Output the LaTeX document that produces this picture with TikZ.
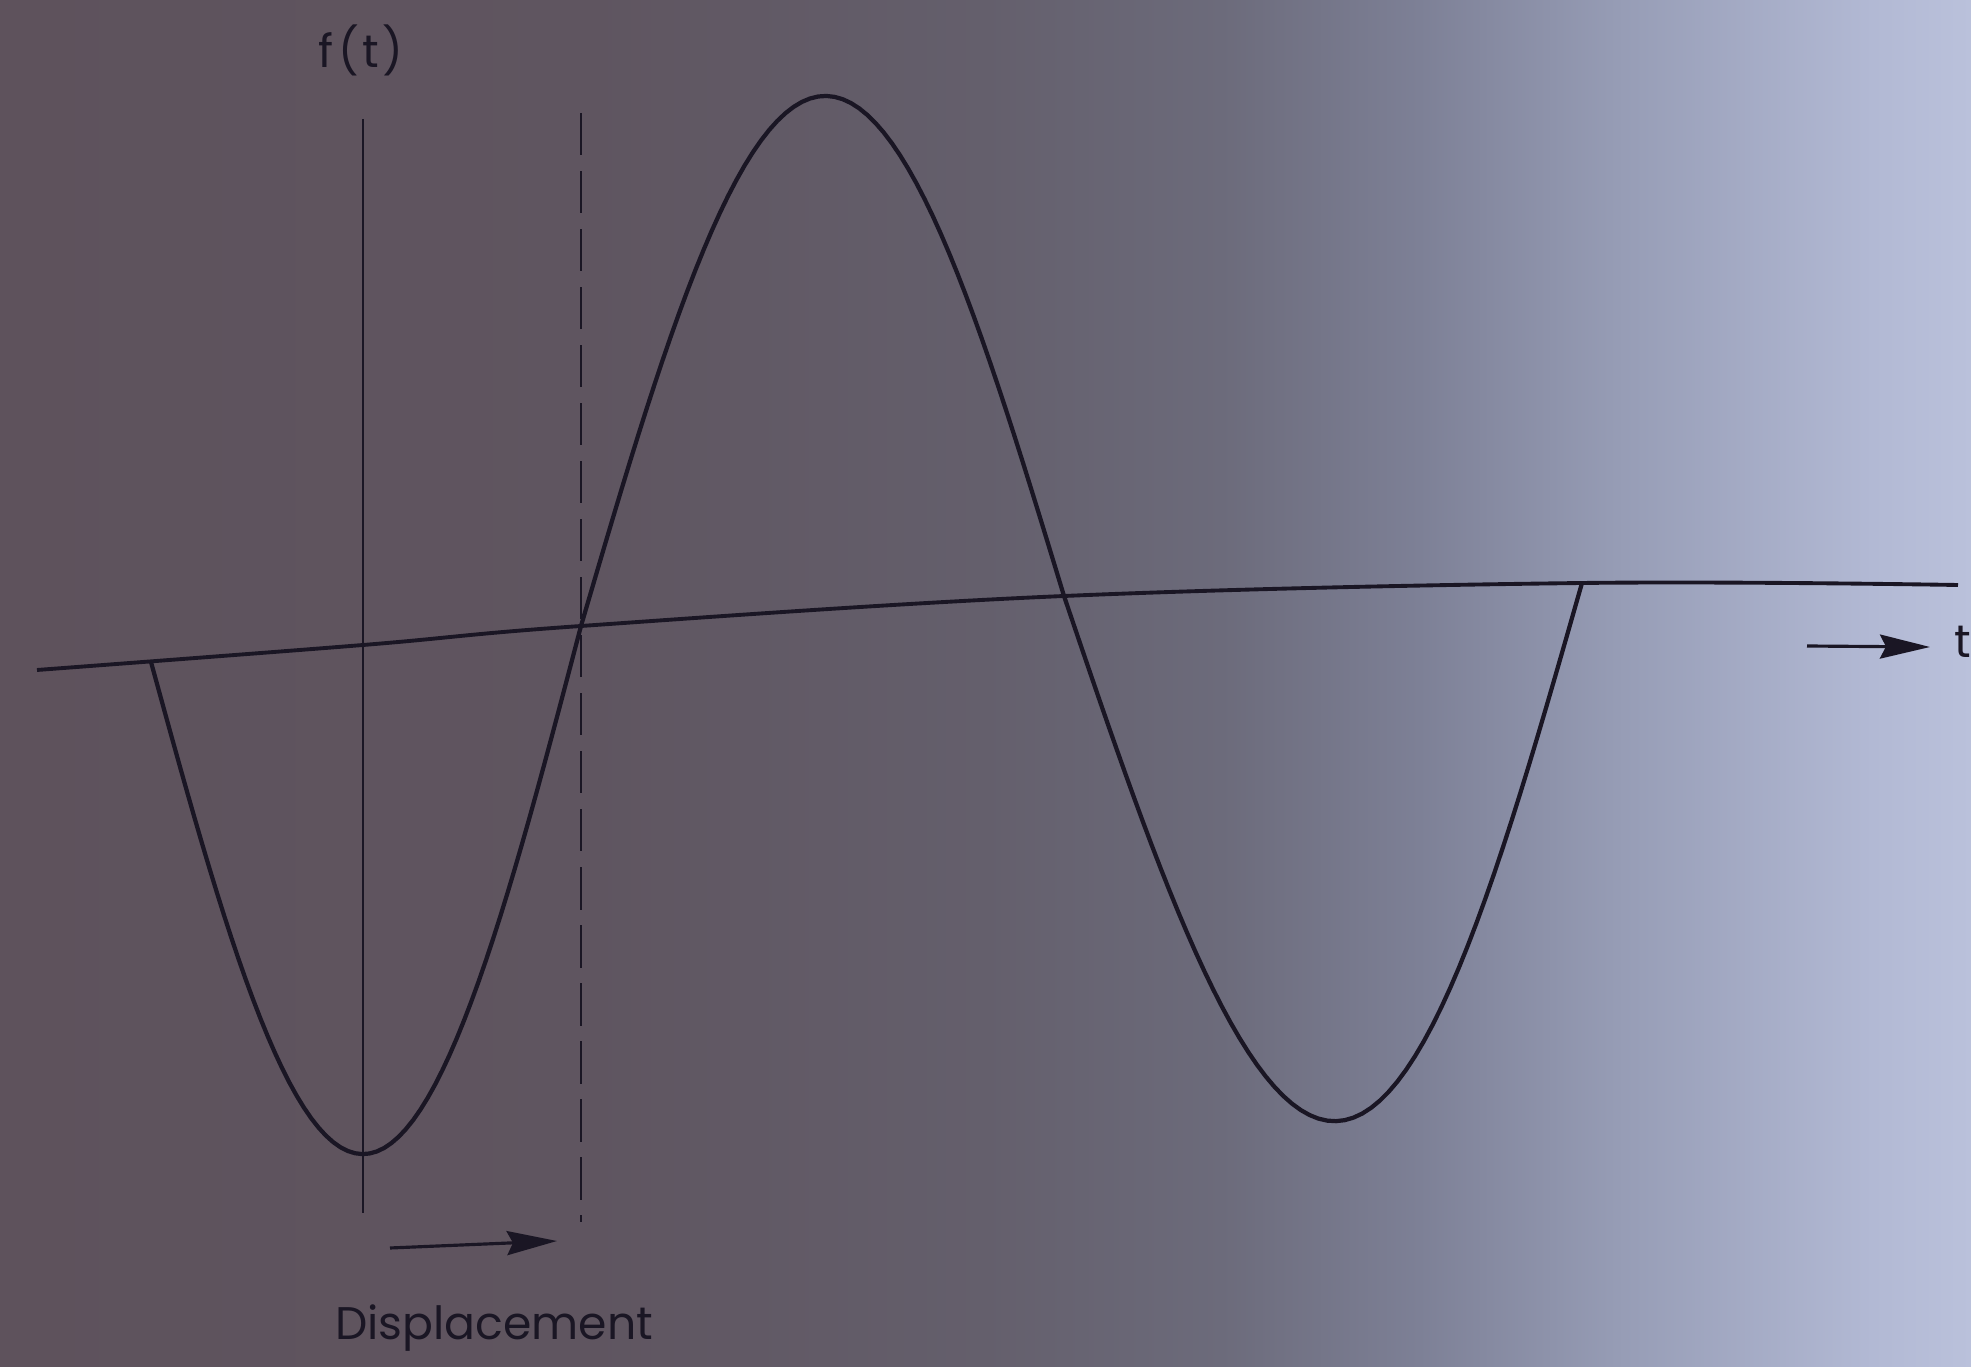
\documentclass[tikz,border=0pt]{standalone}
\usepackage{fontspec}
\setmainfont{Poppins}
\usepackage{tikz}
\usetikzlibrary{
  positioning,
  arrows.meta,
  calc
}
\definecolor{inkcol}{RGB}{26,22,36}
\definecolor{bgA}{RGB}{94,82,92}
\definecolor{bgB}{RGB}{95,85,96}
\definecolor{bgC}{RGB}{100,95,108}
\definecolor{bgD}{RGB}{108,107,123}
\definecolor{bgE}{RGB}{125,128,150}
\definecolor{bgF}{RGB}{150,156,181}
\definecolor{bgG}{RGB}{178,185,212}
\definecolor{bgH}{RGB}{186,193,219}
\pgfdeclarehorizontalshading{paperfade}{100bp}{
  color(0bp)=(bgA); color(25bp)=(bgA); color(40bp)=(bgB); color(50bp)=(bgC);
  color(56bp)=(bgD); color(61bp)=(bgE); color(66bp)=(bgF); color(72.5bp)=(bgG);
  color(75bp)=(bgH); color(100bp)=(bgH)}
\tikzset{
  wave/.style={
    draw=inkcol, line width=1.2pt, line join=round
  },
  axisline/.style={
    draw=inkcol, line width=1.1pt
  },
  refline/.style={
    draw=inkcol, line width=0.75pt
  },
  shiftline/.style={
    draw=inkcol, line width=0.8pt, dash pattern=on 12pt off 4.5pt
  },
  bigarrow/.style={
    -{Stealth[length=5mm, width=2.4mm, inset=0.6mm]}, line width=0.9pt, draw=inkcol
  },
  lbl/.style={
    font=\fontsize{13}{15}\selectfont, text=inkcol, inner sep=0pt
  }
}

\begin{document}
\begin{tikzpicture}[x=0.01cm, y=-0.01cm]

    % paper background
    \path[shading=paperfade] (0,0) rectangle (1971,1367);
    \useasboundingbox (0,0) rectangle (1971,1367);

    % time axis
    \draw[axisline] plot[smooth, tension=0.6] coordinates {
      (37,670) (363,645) (581,626) (1064,596) (1582,583) (1958,585)
    };

    % reference lines
    \coordinate (reftop) at (363,119);
    \coordinate (refbot) at (363,1213);
    \coordinate (shifttop) at (581,113);
    \coordinate (shiftbot) at (581,1222);
    \draw[refline] (reftop) -- (refbot);
    \draw[shiftline] (shifttop) -- (shiftbot);

    % the wave, one half period at a time
    \draw[wave]
      plot[domain=0:1, samples=60, variable=\s]
        ({151+430*\s}, {662-36*\s+510*sin(180*\s)})
      -- plot[domain=0:1, samples=60, variable=\s]
        ({581+483*\s}, {626-30*\s-515*sin(180*\s)})
      -- plot[domain=0:1, samples=60, variable=\s]
        ({1064+518*\s}, {596-13*\s+532*sin(180*(\s-0.025*sin(180*\s)))});

    % labels
    \node[lbl] (ft) at (361,50) {f\kern1.5pt(\kern1pt t\kern1pt)};
    \node[lbl] (tlab) at (1963,642) {t};
    \node[lbl] (disp) at (494,1328) {Displacement};

    % arrows
    \coordinate (tstart) at (1807,646);
    \coordinate (tend) at (1930,647);
    \draw[bigarrow] (tstart) -- (tend);
    \coordinate (dstart) at (390,1248);
    \coordinate (dend) at (557,1241);
    \draw[bigarrow] (dstart) -- (dend);

\end{tikzpicture}
\end{document}
